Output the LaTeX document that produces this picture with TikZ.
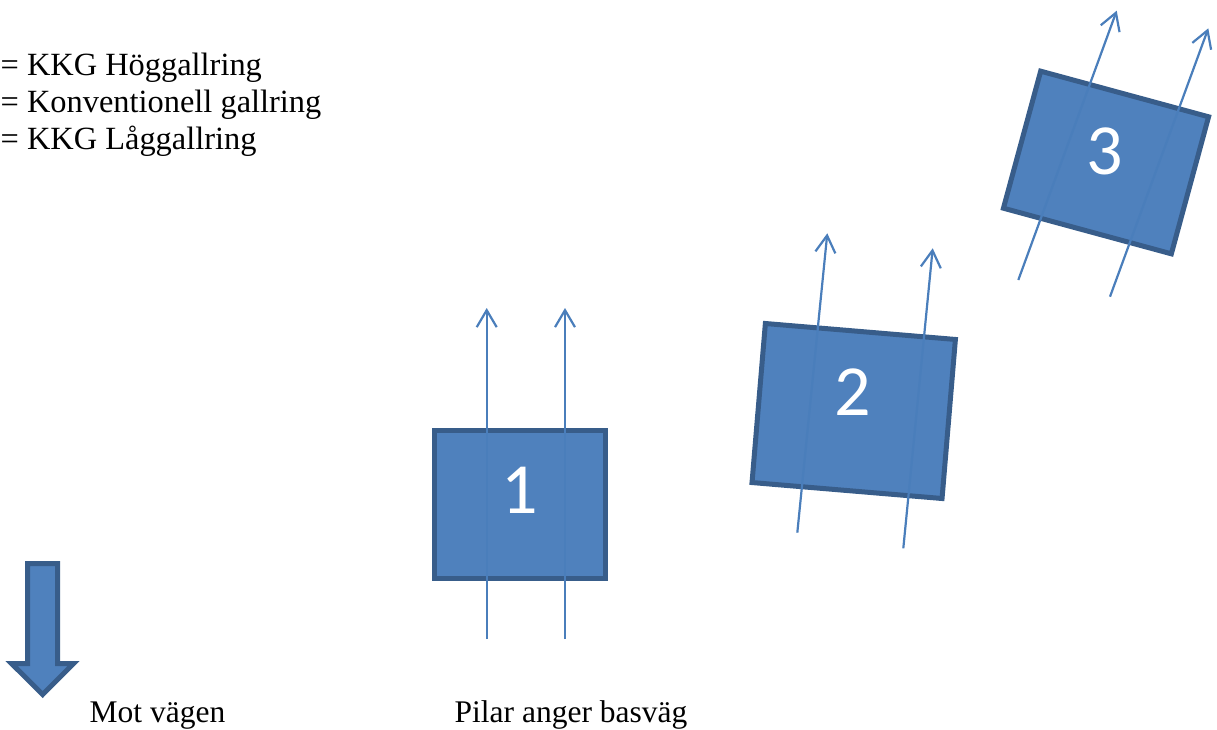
\documentclass[tikz,border=0pt]{standalone}
\usepackage{fontspec}
\setmainfont{Liberation Serif}
\newfontfamily\calibri{Carlito}
\usetikzlibrary{arrows.meta}
\definecolor{boxfill}{HTML}{4F81BD}
\definecolor{boxline}{HTML}{385D8A}
\definecolor{arrline}{HTML}{4A7EBB}
\begin{document}
\begin{tikzpicture}[x=1pt,y=-1pt,
  plot/.style={draw=boxline,fill=boxfill,line width=5pt,rectangle,inner sep=0pt,line join=miter},
  num/.style={font=\calibri\fontsize{72}{80}\selectfont,text=white,anchor=base,inner sep=0pt},
  txt/.style={font=\fontsize{31.5}{36}\selectfont,anchor=base west,inner sep=0pt},
  legtxt/.style={font=\fontsize{32.4}{37}\selectfont,anchor=base west,inner sep=0pt},
  basv/.style={draw=arrline,line width=2.2pt,-{Straight Barb[length=17pt,width=20pt,line width=2.2pt]}}]
\useasboundingbox (0,0) rectangle (1217,730);

% legend
\node[legtxt] (l1) at (0.5,76) {= KKG Höggallring};
\node[legtxt] (l2) at (0.5,113) {= Konventionell gallring};
\node[legtxt] (l3) at (0.5,150) {= KKG Låggallring};

% big down arrow
\draw[draw=boxline,fill=boxfill,line width=5pt,line join=miter]
  (27.5,563.5) -- (57.5,563.5) -- (57.5,663.5) -- (73.5,663.5) -- (42.7,694.5)
  -- (11.5,663.5) -- (27.5,663.5) -- cycle;
\node[txt] (mot) at (89.5,722) {Mot vägen};
\node[txt] (pil) at (454.5,722) {Pilar anger basväg};

% plots
\node[plot,minimum width=171pt,minimum height=148pt] (b1) at (520,504.5) {};
\node[plot,minimum width=190.7pt,minimum height=159.6pt,rotate=-4.8] (b2) at (853.7,411) {};
\node[plot,minimum width=174pt,minimum height=142pt,rotate=-15.2] (b3) at (1106,162.5) {};
\node[num] (n1) at (520,513) {1};
\node[num] (n2) at (853,415) {2};
\node[num] (n3) at (1105,175) {3};

% base roads
\coordinate (a1s) at (486.7,639);   \coordinate (a1e) at (486.7,308);
\coordinate (a2s) at (565,639);     \coordinate (a2e) at (565,308);
\coordinate (a3s) at (797.3,532.7); \coordinate (a3e) at (827.3,233.3);
\coordinate (a4s) at (903.3,548.3); \coordinate (a4e) at (932.7,248.3);
\coordinate (a5s) at (1018.3,280);  \coordinate (a5e) at (1116.7,10.7);
\coordinate (a6s) at (1110,296.7);  \coordinate (a6e) at (1208.3,28.3);
\draw[basv] (a1s) -- (a1e);
\draw[basv] (a2s) -- (a2e);
\draw[basv] (a3s) -- (a3e);
\draw[basv] (a4s) -- (a4e);
\draw[basv] (a5s) -- (a5e);
\draw[basv] (a6s) -- (a6e);
\end{tikzpicture}
\end{document}
